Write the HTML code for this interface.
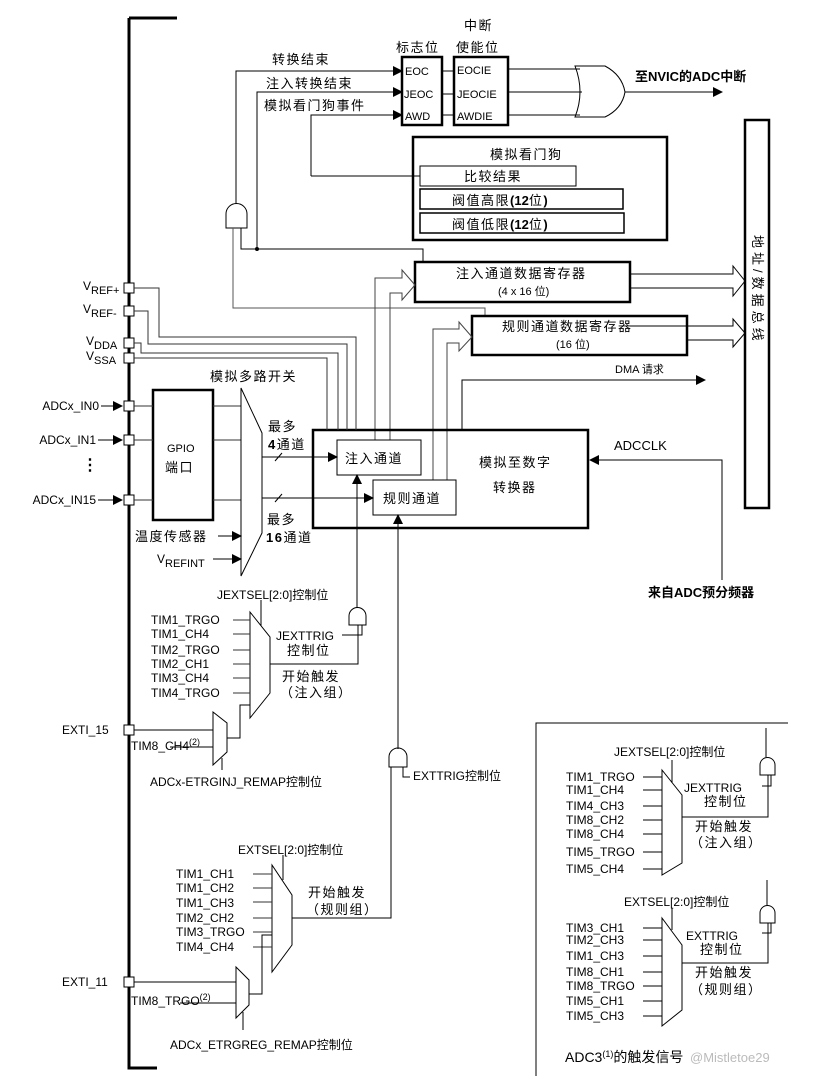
<!DOCTYPE html>
<html><head><meta charset="utf-8"><style>
html,body{margin:0;padding:0;background:#fff;}
svg{display:block;}
text{font-family:"Liberation Sans","Noto Sans CJK SC",sans-serif;font-size:12px;fill:#000;}
.t{font-size:13px;letter-spacing:1.5px;}
.s{font-size:11px;letter-spacing:0;}
</style></head><body>
<svg width="832" height="1076" viewBox="0 0 832 1076" xmlns="http://www.w3.org/2000/svg">
<defs>
<marker id="a" markerWidth="10" markerHeight="10" refX="9" refY="5" orient="auto" markerUnits="userSpaceOnUse"><path d="M0,0 L10,5 L0,10 Z" fill="#000"/></marker>
</defs>
<g fill="none" stroke="#000" stroke-width="1">
<path d="M129,18 H177 M129,18 V1068 H157" stroke-width="3"/>
<g fill="#fff">
<rect x="124" y="283" width="10" height="10"/><rect x="124" y="306" width="10" height="10"/>
<rect x="124" y="338" width="10" height="10"/><rect x="124" y="353" width="10" height="10"/>
<rect x="124" y="401" width="10" height="10"/><rect x="124" y="435" width="10" height="10"/>
<rect x="124" y="495" width="10" height="10"/>
<rect x="124" y="725" width="10" height="10"/><rect x="124" y="977" width="10" height="10"/>
</g>
<path d="M236,204 V71 H402" marker-end="url(#a)"/>
<path d="M257,249 V92 H402" marker-end="url(#a)"/>
<path d="M311,176 V115 H402" marker-end="url(#a)"/>
<path d="M311,176 H420"/>
<rect x="402" y="57" width="40" height="68" stroke-width="2.5"/>
<rect x="454" y="57" width="54" height="68" stroke-width="2.5"/>
<path d="M442,71 H454 M442,94 H454 M442,115 H454"/>
<path d="M508,69 H580 M508,92 H582 M508,115 H580"/>
<path d="M575,66 H605 Q622,75 625,92 Q622,109 605,117 H575 Q585,92 575,66 Z"/>
<path d="M625,92 H722" marker-end="url(#a)"/>
<rect x="413" y="137" width="254" height="103" stroke-width="2.5"/>
<rect x="420" y="166" width="156" height="20"/>
<rect x="420" y="189" width="203" height="20" stroke-width="1.5"/>
<rect x="420" y="213" width="204" height="20" stroke-width="1.5"/>
<path d="M226,228 V214 A10.5,10.5 0 0 1 247,214 V228 Z"/>
<path d="M241,228 V249 H423 V262"/>
<circle cx="257" cy="249" r="1.5" fill="#000"/>
<path d="M233,228 V308 H485 V316" stroke="#555"/>
<rect x="415" y="262" width="215" height="40" stroke-width="2.5"/>
<rect x="472" y="316" width="215" height="39" stroke-width="2.5"/>
<rect x="745" y="120" width="24" height="388" stroke-width="2.5"/>
<path d="M630,274 H733 V266 L745,281 L733,296 V288 H630"/>
<path d="M630,326 H733 V319 L745,333 L733,347 V340 H687"/>
<path d="M375,440 V278 H402 V270 L415,285 L402,300 V293 H390 V440" stroke="#444"/>
<path d="M433,480 V329 H459 V322 L472,337 L459,351 V343 H447 V480" stroke="#444"/>
<rect x="313" y="430" width="275" height="98" stroke-width="2.5"/>
<rect x="337" y="440" width="84" height="35" fill="#fff"/>
<rect x="373" y="480" width="83" height="35" fill="#fff"/>
<path d="M462,430 V380 H705" marker-end="url(#a)"/>
<path d="M722,580 V460 H590" marker-end="url(#a)"/>
<path d="M134,288 H159 V337 H356 V430" stroke="#333"/>
<path d="M134,311 H148 V344 H347 V430" stroke="#333"/>
<path d="M134,343 H141 V353 H338 V430" stroke="#333"/>
<path d="M134,358 H327 V430" stroke="#333"/>
<path d="M101,406 H122" marker-end="url(#a)"/><path d="M98,440 H122" marker-end="url(#a)"/><path d="M98,500 H122" marker-end="url(#a)"/>
<rect x="153" y="390" width="60" height="130" stroke-width="2.5"/>
<path d="M134,406 H153 M134,440 H153 M134,500 H153 M213,406 H241 M213,440 H241 M213,500 H241" stroke="#333"/>
<path d="M241,388 L262,433 V533 L241,576 Z"/>
<path d="M262,457 H337" marker-end="url(#a)"/><path d="M262,498 H373" marker-end="url(#a)"/>
<path d="M275,461 L282,453 M275,502 L282,494"/>
<path d="M218,536 H241" marker-end="url(#a)"/><path d="M213,559 H241" marker-end="url(#a)"/>
<path d="M250,612 L270,637 V693 L250,718 Z"/>
<path d="M261,600 V626"/>
<path d="M233,620 H250 M233,634 H250 M233,650 H250 M233,664 H250 M233,678 H250 M233,693 H250" stroke="#333"/>
<path d="M270,664 H358 V625"/>
<path d="M349,625 V616 A8.5,8.5 0 0 1 366,616 V625 Z"/>
<path d="M357,608 V475" marker-end="url(#a)"/>
<path d="M362,625 V635 H342"/>
<path d="M134,730 H213 M170,747 H213"/>
<path d="M213,712 L227,723 V752 L213,765 Z"/>
<path d="M227,738 H240 V705 H250 M222,758 V770"/>
<path d="M398,749 V515" marker-end="url(#a)"/>
<path d="M389,767 V757 A9,9 0 0 1 407,757 V767 Z"/>
<path d="M403,767 V777 H410"/>
<path d="M391,767 V918 H292"/>
<path d="M272,865 L292,895 V945 L272,972 Z"/>
<path d="M283,855 V880"/>
<path d="M253,874 H272 M253,888 H272 M253,902 H272 M253,918 H272 M253,932 H272 M253,947 H272" stroke="#333"/>
<path d="M134,982 H236 M180,1003 H236"/>
<path d="M236,967 L249,980 V1005 L236,1018 Z"/>
<path d="M249,994 H262 V935 H272 M243,1012 V1030"/>
<path d="M788,723 H536 V1076"/>
<path d="M662,770 L682,795 V863 L662,875 Z"/>
<path d="M672,760 V783"/>
<path d="M643,777 H662 M643,790 H662 M643,806 H662 M643,820 H662 M643,834 H662 M643,852 H662 M643,869 H662"/>
<path d="M682,817 H768 V775"/>
<path d="M760,775 V765 A7.5,7.5 0 0 1 775,765 V775 Z M766,757 V728 M771,775 V786 H762"/>
<path d="M662,918 L682,945 V1010 L662,1026 Z"/>
<path d="M672,908 V930"/>
<path d="M643,928 H662 M643,940 H662 M643,956 H662 M643,972 H662 M643,986 H662 M643,1001 H662 M643,1016 H662"/>
<path d="M682,963 H768 V923"/>
<path d="M760,923 V913 A7.5,7.5 0 0 1 775,913 V923 Z M767,905 V880 M771,923 V933 H762"/>
</g>
<text x="272" y="64" class="t">转换结束</text>
<text x="266" y="88" class="t">注入转换结束</text>
<text x="264" y="110" class="t">模拟看门狗事件</text>
<text x="396" y="52" class="t">标志位</text>
<text x="464" y="30" class="t">中断</text>
<text x="456" y="52" class="t">使能位</text>
<text x="405" y="75" class="s">EOC</text><text x="404" y="98" class="s">JEOC</text><text x="405" y="120" class="s">AWD</text>
<text x="457" y="74" class="s">EOCIE</text><text x="457" y="98" class="s">JEOCIE</text><text x="457" y="120" class="s">AWDIE</text>
<text x="635" y="81" class="t" style="font-weight:bold;letter-spacing:0">至NVIC的ADC中断</text>
<text x="490" y="159" class="t">模拟看门狗</text>
<text x="464" y="181" class="t">比较结果</text>
<text x="452" y="205" class="t">阀值高限<tspan font-weight="bold" letter-spacing="0">(12</tspan>位<tspan font-weight="bold">)</tspan></text>
<text x="452" y="229" class="t">阀值低限<tspan font-weight="bold" letter-spacing="0">(12</tspan>位<tspan font-weight="bold">)</tspan></text>
<text x="456" y="278" class="t">注入通道数据寄存器</text>
<text x="498" y="295" class="s">(4 x 16 位)</text>
<text x="502" y="331" class="t">规则通道数据寄存器</text>
<text x="556" y="348" class="s">(16 位)</text>
<text x="615" y="373" class="s">DMA 请求</text>
<text transform="translate(753,235) rotate(90)" class="t" style="letter-spacing:4px">地址/数据总线</text>
<text x="614" y="450" class="t" style="letter-spacing:0">ADCCLK</text>
<text x="648" y="597" class="t" style="font-weight:bold;letter-spacing:0">来自ADC预分频器</text>
<text x="479" y="467" class="t">模拟至数字</text>
<text x="493" y="492" class="t">转换器</text>
<text x="345" y="463" class="t">注入通道</text>
<text x="383" y="503" class="t">规则通道</text>
<text x="83" y="290">V<tspan dy="4" class="s">REF+</tspan></text>
<text x="83" y="313">V<tspan dy="4" class="s">REF-</tspan></text>
<text x="86" y="345">V<tspan dy="4" class="s">DDA</tspan></text>
<text x="86" y="360">V<tspan dy="4" class="s">SSA</tspan></text>
<text x="99" y="410" text-anchor="end">ADCx_IN0</text><text x="96" y="444" text-anchor="end">ADCx_IN1</text><text x="96" y="504" text-anchor="end">ADCx_IN15</text>
<text x="82" y="470" style="font-size:16px;font-weight:bold">⋮</text>
<text x="167" y="452" class="s">GPIO</text><text x="165" y="472" class="t">端口</text>
<text x="210" y="381" class="t">模拟多路开关</text>
<text x="268" y="431" class="t">最多</text><text x="268" y="449" class="t"><tspan font-weight="bold">4</tspan>通道</text>
<text x="267" y="524" class="t">最多</text><text x="266" y="542" class="t"><tspan font-weight="bold">16</tspan>通道</text>
<text x="135" y="541" class="t">温度传感器</text>
<text x="157" y="563">V<tspan dy="4" class="s">REFINT</tspan></text>
<text x="217" y="599">JEXTSEL[2:0]控制位</text>
<g class="s"><text x="151" y="624">TIM1_TRGO</text><text x="151" y="638">TIM1_CH4</text><text x="151" y="654">TIM2_TRGO</text><text x="151" y="668">TIM2_CH1</text><text x="151" y="682">TIM3_CH4</text><text x="151" y="697">TIM4_TRGO</text></g>
<text x="276" y="640">JEXTTRIG</text><text x="287" y="655" class="t">控制位</text>
<text x="282" y="681" class="t">开始触发</text><text x="280" y="697" class="t">（注入组）</text>
<text x="62" y="734">EXTI_15</text>
<text x="131" y="750">TIM8_CH4<tspan dy="-5" font-size="9">(2)</tspan></text>
<text x="150" y="786">ADCx-ETRGINJ_REMAP控制位</text>
<text x="413" y="780">EXTTRIG控制位</text>
<text x="238" y="854">EXTSEL[2:0]控制位</text>
<g class="s"><text x="176" y="878">TIM1_CH1</text><text x="176" y="892">TIM1_CH2</text><text x="176" y="907">TIM1_CH3</text><text x="176" y="922">TIM2_CH2</text><text x="176" y="936">TIM3_TRGO</text><text x="176" y="951">TIM4_CH4</text></g>
<text x="308" y="897" class="t">开始触发</text><text x="306" y="914" class="t">（规则组）</text>
<text x="62" y="986">EXTI_11</text>
<text x="131" y="1005">TIM8_TRGO<tspan dy="-5" font-size="9">(2)</tspan></text>
<text x="170" y="1049">ADCx_ETRGREG_REMAP控制位</text>
<text x="614" y="756">JEXTSEL[2:0]控制位</text>
<g class="s"><text x="566" y="781">TIM1_TRGO</text><text x="566" y="794">TIM1_CH4</text><text x="566" y="810">TIM4_CH3</text><text x="566" y="824">TIM8_CH2</text><text x="566" y="838">TIM8_CH4</text><text x="566" y="856">TIM5_TRGO</text><text x="566" y="873">TIM5_CH4</text></g>
<text x="684" y="792">JEXTTRIG</text><text x="704" y="806" class="t">控制位</text>
<text x="695" y="831" class="t">开始触发</text><text x="690" y="847" class="t">（注入组）</text>
<text x="624" y="906">EXTSEL[2:0]控制位</text>
<g class="s"><text x="566" y="932">TIM3_CH1</text><text x="566" y="944">TIM2_CH3</text><text x="566" y="960">TIM1_CH3</text><text x="566" y="976">TIM8_CH1</text><text x="566" y="990">TIM8_TRGO</text><text x="566" y="1005">TIM5_CH1</text><text x="566" y="1020">TIM5_CH3</text></g>
<text x="686" y="940">EXTTRIG</text><text x="700" y="954" class="t">控制位</text>
<text x="695" y="977" class="t">开始触发</text><text x="690" y="994" class="t">（规则组）</text>
<text x="565" y="1062" style="font-size:14px">ADC3<tspan dy="-5" font-size="9">(1)</tspan><tspan dy="5">的触发信号</tspan></text>
<text x="690" y="1062" class="t" style="fill:#bbb;letter-spacing:0">@Mistletoe29</text>
</svg>
</body></html>
